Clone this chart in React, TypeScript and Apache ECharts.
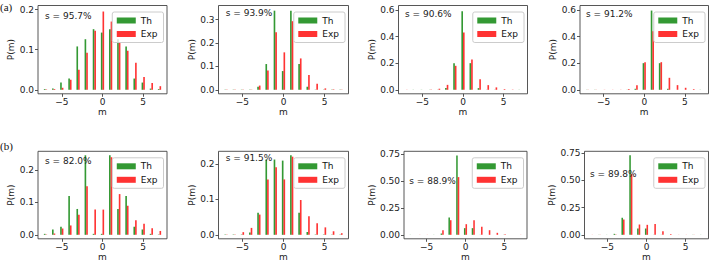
import React, { useEffect, useRef } from "react";
import * as echarts from "echarts";

// m values (x categories)
const mValues = [-7, -6, -5, -4, -3, -2, -1, 0, 1, 2, 3, 4, 5, 6, 7];
const xTicks = [-5, 0, 5];

// Row (a)
const thA1 = [0.002, 0.003, 0.018, 0.028, 0.108, 0.126, 0.151, 0.1425, 0.151, 0.126, 0.108, 0.028, 0.018, 0.003, 0.002];
const expA1 = [0.001, 0.002, 0.005, 0.025, 0.05, 0.0925, 0.147, 0.195, 0.17, 0.1175, 0.097, 0.0675, 0.032, 0.017, 0.009];
const thA2 = [0.001, 0.001, 0.001, 0.001, 0.013, 0.11, 0.338, 0.08, 0.338, 0.11, 0.013, 0.001, 0.001, 0.001, 0.001];
const expA2 = [0.001, 0.001, 0.001, 0.001, 0.018, 0.082, 0.246, 0.16, 0.293, 0.134, 0.063, 0.026, 0.006, 0.002, 0.001];
const thA3 = [0.001, 0.001, 0.001, 0.001, 0.001, 0.0125, 0.2, 0.59, 0.2, 0.0125, 0.001, 0.001, 0.001, 0.001, 0.001];
const expA3 = [0.001, 0.001, 0.001, 0.002, 0.008, 0.037, 0.18, 0.43, 0.228, 0.08, 0.035, 0.018, 0.005, 0.002, 0.001];
const thA4 = [0.001, 0.001, 0.001, 0.001, 0.001, 0.001, 0.0075, 0.2, 0.595, 0.2, 0.0075, 0.001, 0.001, 0.001, 0.001];
const expA4 = [0.001, 0.001, 0.001, 0.001, 0.001, 0.005, 0.035, 0.2075, 0.44, 0.2075, 0.09, 0.035, 0.015, 0.005, 0.001];

// Row (b)
const thB1 = [0.003, 0.0165, 0.025, 0.12, 0.08, 0.246, 0.003, 0.003, 0.246, 0.08, 0.12, 0.025, 0.0165, 0.003, 0.001];
const expB1 = [0.001, 0.004, 0.0195, 0.029, 0.062, 0.15, 0.078, 0.078, 0.24, 0.126, 0.09, 0.045, 0.034, 0.0206, 0.012];
const thB2 = [0.001, 0.001, 0.001, 0.0065, 0.062, 0.212, 0.212, 0.209, 0.224, 0.062, 0.008, 0.001, 0.001, 0.001, 0.001];
const expB2 = [0.001, 0.001, 0.0075, 0.0195, 0.057, 0.156, 0.19, 0.156, 0.22, 0.098, 0.052, 0.0326, 0.021, 0.01, 0.0045];
const thB3 = [0.001, 0.001, 0.001, 0.001, 0.012, 0.162, 0.738, 0.062, 0.062, 0.001, 0.001, 0.001, 0.001, 0.001, 0.001];
const expB3 = [0.001, 0.001, 0.001, 0.001, 0.043, 0.136, 0.537, 0.099, 0.136, 0.074, 0.043, 0.0185, 0.005, 0.001, 0.001];
const thB4 = [0.001, 0.001, 0.001, 0.009, 0.157, 0.732, 0.058, 0.058, 0.001, 0.001, 0.001, 0.001, 0.001, 0.001, 0.001];
const expB4 = [0.001, 0.001, 0.001, 0.003, 0.141, 0.56, 0.095, 0.092, 0.1, 0.034, 0.006, 0.001, 0.001, 0.001, 0.001];

const sLabels = ["s = 95.7%", "s = 93.9%", "s = 90.6%", "s = 91.2%", "s = 82.0%", "s = 91.5%", "s = 88.9%", "s = 89.8%"];
const yDataMax = [0.2, 0.343, 0.603, 0.603, 0.246, 0.224, 0.74, 0.732];
const yTickSets = [
  [0, 0.1, 0.2],
  [0, 0.1, 0.2, 0.3],
  [0, 0.2, 0.4, 0.6],
  [0, 0.2, 0.4, 0.6],
  [0, 0.1, 0.2],
  [0, 0.1, 0.2],
  [0, 0.25, 0.5, 0.75],
  [0, 0.25, 0.5, 0.75],
];
const yDecimals = [1, 1, 1, 1, 1, 1, 2, 2];
const thSeries = [thA1, thA2, thA3, thA4, thB1, thB2, thB3, thB4];
const expSeries = [expA1, expA2, expA3, expA4, expB1, expB2, expB3, expB4];

// layout (pixels)
const rowTop = [5.5, 151.3];
const rowHeight = [88.3, 87.5];
const gridLeft = [38, 218.5, 398.5, 580, 38, 218.5, 404, 584.5];
const gridWidth = [129, 130, 129, 128.5, 129, 130, 123, 124];
const sTextPos = [
  [45, 15.7], [225.7, 12.7], [405, 14], [586, 14],
  [45, 160.7], [225.7, 158.3], [409.3, 180.7], [590, 174.3],
];

const FONT = "DejaVu Sans";
const GREEN = "rgba(0,128,0,0.8)";
const RED = "rgba(255,0,0,0.8)";
const X_MIN = -7.92;
const X_MAX = 7.92;

function barRender(offset: number, color: string) {
  return (params: any, api: any) => {
    const x = api.value(0);
    const y = api.value(1);
    const p0 = api.coord([x + offset - 0.1, y]);
    const p1 = api.coord([x + offset + 0.1, 0]);
    return {
      type: "rect",
      shape: { x: p0[0], y: p0[1], width: p1[0] - p0[0], height: p1[1] - p0[1] },
      style: { fill: color },
    };
  };
}

export default function App() {
  const ref = useRef<HTMLDivElement>(null);
  useEffect(() => {
    if (!ref.current) return;
    const chart = echarts.init(ref.current, null, { renderer: "svg" });
    const grids: any[] = [];
    const xAxes: any[] = [];
    const yAxes: any[] = [];
    const series: any[] = [];
    const legends: any[] = [];
    const graphics: any[] = [];
    for (let i = 0; i < 8; i++) {
      const row = i < 4 ? 0 : 1;
      const top = rowTop[row];
      const h = rowHeight[row];
      grids.push({
        left: gridLeft[i],
        top,
        width: gridWidth[i],
        height: h,
        show: true,
        borderColor: "#444",
        borderWidth: 0.9,
        backgroundColor: "transparent",
      });
      xAxes.push({
        type: "value",
        gridIndex: i,
        position: "bottom",
        min: X_MIN,
        max: X_MAX,
        axisLine: { show: false, onZero: false },
        splitLine: { show: false },
        axisTick: { show: true, length: 3, lineStyle: { color: "#444", width: 0.9 }, customValues: xTicks },
        axisLabel: {
          customValues: xTicks,
          fontSize: 9,
          fontFamily: FONT,
          color: "#222",
          margin: 4,
          formatter: (v: number) => (v < 0 ? "\u2212" + Math.abs(v) : String(v)),
        },
        name: "m",
        nameLocation: "middle",
        nameGap: 11.5,
        nameTextStyle: { fontSize: 9, fontFamily: FONT, color: "#222" },
      });
      const T = yDataMax[i];
      const dec = yDecimals[i];
      yAxes.push({
        type: "value",
        gridIndex: i,
        position: "left",
        min: -0.05 * T,
        max: 1.05 * T,
        axisLine: { show: false, onZero: false },
        splitLine: { show: false },
        axisTick: { show: true, length: 3, lineStyle: { color: "#444", width: 0.9 }, customValues: yTickSets[i] },
        axisLabel: {
          customValues: yTickSets[i],
          fontSize: 9,
          fontFamily: FONT,
          color: "#222",
          margin: 4,
          formatter: (v: number) => v.toFixed(dec),
        },
        name: "P(m)",
        nameLocation: "middle",
        nameGap: i === 6 ? 24 : i === 7 ? 22 : 18,
        nameTextStyle: { fontSize: 9, fontFamily: FONT, color: "#222" },
      });
      series.push({
        type: "custom",
        name: "Th",
        xAxisIndex: i,
        yAxisIndex: i,
        itemStyle: { color: GREEN },
        renderItem: barRender(-0.1, GREEN),
        data: mValues.map((m, k) => [m, thSeries[i][k]]),
        z: 2,
      });
      series.push({
        type: "custom",
        name: "Exp",
        xAxisIndex: i,
        yAxisIndex: i,
        itemStyle: { color: RED },
        renderItem: barRender(0.1, RED),
        data: mValues.map((m, k) => [m, expSeries[i][k]]),
        z: 3,
      });
      const frameRight = gridLeft[i] + gridWidth[i];
      legends.push({
        orient: "vertical",
        right: 712 - frameRight + 3.5,
        top: top + 6.5,
        data: ["Th", "Exp"],
        icon: "rect",
        itemWidth: 19,
        itemHeight: 6,
        itemGap: 4.5,
        padding: [4, 6, 4, 4.5],
        backgroundColor: "rgba(255,255,255,0.8)",
        borderColor: "#cccccc",
        borderWidth: 1,
        borderRadius: 2,
        selectedMode: false,
        textStyle: { fontSize: 9, fontFamily: FONT, color: "#111" },
        z: 10,
      });
      graphics.push({
        type: "text",
        x: sTextPos[i][0],
        y: sTextPos[i][1],
        z: 100,
        style: {
          text: sLabels[i],
          fontSize: 9,
          fontFamily: FONT,
          fill: "#222",
          verticalAlign: "middle",
          align: "left",
        },
      });
    }
    graphics.push({
      type: "text",
      x: 0,
      y: 6.7,
      z: 100,
      style: { text: "(a)", fontSize: 11, fontFamily: "Liberation Serif", fill: "#111", verticalAlign: "middle" },
    });
    graphics.push({
      type: "text",
      x: 0,
      y: 146,
      z: 100,
      style: { text: "(b)", fontSize: 11, fontFamily: "Liberation Serif", fill: "#111", verticalAlign: "middle" },
    });
    chart.setOption({
      animation: false,
      backgroundColor: "#ffffff",
      grid: grids,
      xAxis: xAxes,
      yAxis: yAxes,
      series,
      legend: legends,
      graphic: graphics,
    });
    return () => chart.dispose();
  }, []);
  return (
    <div
      ref={ref}
      style={{ position: "fixed", left: 0, top: 0, width: 712, height: 265 }}
    />
  );
}
